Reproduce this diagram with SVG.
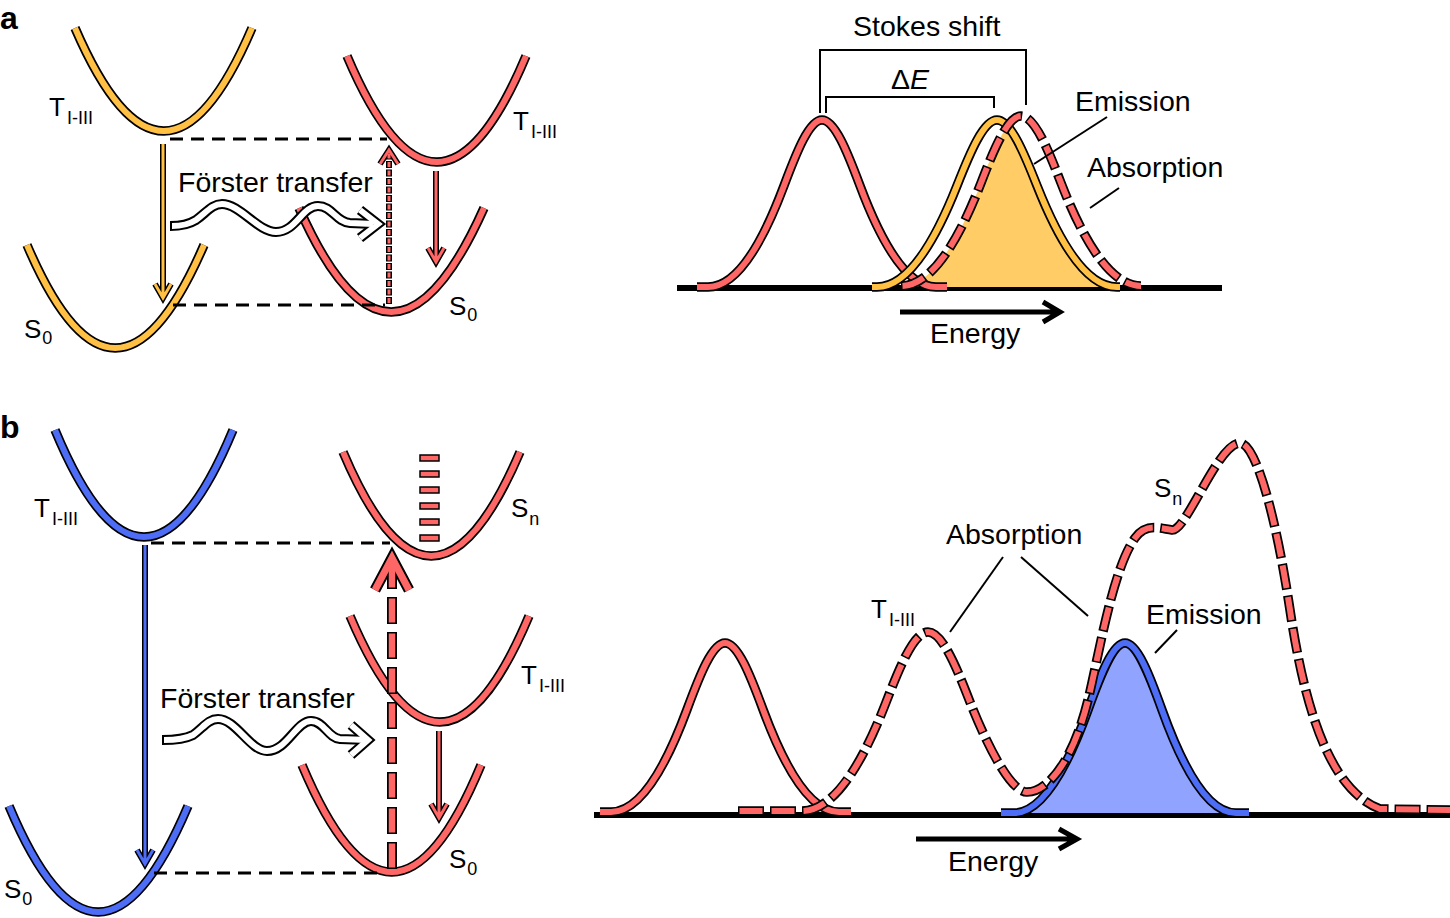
<svg xmlns="http://www.w3.org/2000/svg" xmlns:xlink="http://www.w3.org/1999/xlink" width="1450" height="918" viewBox="0 0 1450 918">
<style>
text{font-family:"Liberation Sans",Arial,sans-serif;fill:#000}
.lab{font-size:28.5px}
.st{font-size:26px}
.sub{font-size:18px}
.pl{font-size:32px;font-weight:bold}
.o9{fill:none;stroke:#000;stroke-width:9.5}
.o6{fill:none;stroke:#000;stroke-width:6}
.r6{fill:none;stroke:#FF6666;stroke-width:6}
.r3{fill:none;stroke:#FF6666;stroke-width:3}
.y6{fill:none;stroke:#FFC044;stroke-width:6}
.y3{fill:none;stroke:#FFC044;stroke-width:3}
.b6{fill:none;stroke:#4D6DF6;stroke-width:6}
.b3{fill:none;stroke:#4D6DF6;stroke-width:3}
.dk{stroke-dasharray:26 6}
.dr{stroke-dasharray:23 9;stroke-dashoffset:-1.5}
.bd{fill:none;stroke:#000;stroke-width:3;stroke-dasharray:13 8}
.ln{fill:none;stroke:#000;stroke-width:2}
.base{fill:none;stroke:#000;stroke-width:6}
.en{fill:none;stroke:#000;stroke-width:5;stroke-linejoin:miter}
.wk{fill:none;stroke:#000;stroke-width:10}
.ww{fill:none;stroke:#fff;stroke-width:6}
</style>
<defs>
<path id="yT" d="M75,28 Q164,234 252,28"/>
<path id="yS" d="M27,245 Q115,451 204,245"/>
<path id="rTa" d="M347,56 Q437,268 526,56"/>
<path id="rSa" d="M299,208 Q391,416 484,208"/>
<path id="bT" d="M55,430 Q144,644 233,430"/>
<path id="bS" d="M9,806 Q98,1018 188,806"/>
<path id="rSn" d="M343,452 Q431,660 520,452"/>
<path id="rTb" d="M350,616 Q440,828 529,616"/>
<path id="rSb" d="M302,765 Q392,979 481,765"/>
<path id="gRa" d="M697,287 L708,287 C733.3,287 758.7,253.3 784,185.7 C796.7,151.9 809.3,120 822,120 C834.7,120 847.3,151.9 860,185.7 C885.3,253.3 910.7,287 936,287 L947,287"/>
<path id="gYa" d="M872,287 L877,287 C903.7,287 930.3,253.3 957,185.7 C970.3,151.9 983.7,120 997,120 C1010.3,120 1023.7,151.9 1037,185.7 C1063.7,253.3 1090.3,287 1117,287 L1120,287"/>
<path id="gAa" d="M901,286 C927.7,286 954.3,251.7 981,182.9 C994.3,148.5 1007.7,116 1021,116 C1034.3,116 1047.7,148.5 1061,182.9 C1087.7,251.7 1114.3,286 1141,286"/>
<path id="gRb" d="M600,812 L611,812 C636.3,812 661.7,777.9 687,709.5 C699.7,675.3 712.3,643 725,643 C737.7,643 750.3,675.3 763,709.5 C788.3,777.9 813.7,812 839,812 L851,812"/>
<path id="gBb" d="M1001,813 L1014,813 C1038.7,813 1063.3,778.7 1088,709.9 C1100.3,675.5 1112.7,643 1125,643 C1137.3,643 1149.7,675.5 1162,709.9 C1186.7,778.7 1211.3,813 1236,813 L1249,813"/>
<path id="gAb" d="M738,811 L802,811 C830,811 858,774.8 886,702.4 C900,666.2 914,632 928,632 C942,632 956,666 970,702 C981,730 1008,792 1027,792 C1046,792 1072,765 1088,700 C1098,660 1112,570 1135,538 C1146,523 1158,528 1172,530 C1186,532 1218,443 1240,443 C1255,443 1275,510 1290,610 S1330,790 1380,809 L1450,810"/>
<clipPath id="clipA"><path d="M901,287 C927.7,286 954.3,251.7 981,182.9 C994.3,148.5 1007.7,116 1021,116 C1034.3,116 1047.7,148.5 1061,182.9 C1087.7,251.7 1114.3,286 1141,287 Z"/></clipPath>
</defs>
<rect width="1450" height="918" fill="#fff"/>

<text class="pl" x="0" y="29">a</text>
<text class="pl" x="0" y="438">b</text>

<!-- panel a potential curves -->
<g id="a-T-yellow"><use href="#yT" class="o9"/><use href="#yT" class="y6"/>
<text class="st" x="49" y="116">T<tspan class="sub" dx="2" dy="8">I-III</tspan></text></g>
<g id="a-S0-yellow"><use href="#yS" class="o9"/><use href="#yS" class="y6"/>
<text class="st" x="24" y="338">S<tspan class="sub" dx="1" dy="6">0</tspan></text></g>
<g id="a-T-red"><use href="#rTa" class="o9"/><use href="#rTa" class="r6"/>
<text class="st" x="513" y="130">T<tspan class="sub" dx="2" dy="8">I-III</tspan></text></g>
<g id="a-S0-red"><use href="#rSa" class="o9"/><use href="#rSa" class="r6"/>
<text class="st" x="449" y="315">S<tspan class="sub" dx="1" dy="6">0</tspan></text></g>

<!-- panel b potential curves -->
<g id="b-T-blue"><use href="#bT" class="o9"/><use href="#bT" class="b6"/>
<text class="st" x="34" y="517">T<tspan class="sub" dx="2" dy="8">I-III</tspan></text></g>
<g id="b-S0-blue"><use href="#bS" class="o9"/><use href="#bS" class="b6"/>
<text class="st" x="4" y="898">S<tspan class="sub" dx="1" dy="7">0</tspan></text></g>
<g id="b-Sn-red"><use href="#rSn" class="o9"/><use href="#rSn" class="r6"/>
<g fill="#FF6666" stroke="#000" stroke-width="1.5">
<rect x="420" y="455" width="19" height="6"/><rect x="420" y="471" width="19" height="6"/><rect x="420" y="487" width="19" height="6"/><rect x="420" y="503" width="19" height="6"/><rect x="420" y="519" width="19" height="6"/><rect x="420" y="535" width="19" height="6"/></g>
<text class="st" x="511" y="517">S<tspan class="sub" dx="1" dy="8">n</tspan></text></g>
<g id="b-T-red"><use href="#rTb" class="o9"/><use href="#rTb" class="r6"/>
<text class="st" x="521" y="684">T<tspan class="sub" dx="2" dy="8">I-III</tspan></text></g>
<g id="b-S0-red"><use href="#rSb" class="o9"/><use href="#rSb" class="r6"/>
<text class="st" x="449" y="868">S<tspan class="sub" dx="1" dy="7">0</tspan></text></g>

<!-- spectra a -->
<g id="spectrum-a">
<path class="base" d="M677,288 L1222,288"/>
<path d="M872,287 L877,287 C903.7,287 930.3,253.3 957,185.7 C970.3,151.9 983.7,120 997,120 C1010.3,120 1023.7,151.9 1037,185.7 C1063.7,253.3 1090.3,287 1117,287 L1120,287 Z" fill="#FFCC66" clip-path="url(#clipA)"/>
<use href="#gRa" class="o9"/><use href="#gRa" class="r6"/>
<use href="#gYa" class="o9"/><use href="#gYa" class="y6"/>
<use href="#gAa" class="o9 dk"/><use href="#gAa" class="r6 dr"/>
<path class="ln" d="M820,113 L820,50 L1026,50 L1026,105"/>
<path class="ln" d="M826,113 L826,97 L994,97 L994,108"/>
<text class="lab" x="853" y="36">Stokes shift</text>
<text class="lab" x="891" y="89">Δ<tspan font-style="italic">E</tspan></text>
<text class="lab" x="1075" y="111">Emission</text>
<text class="lab" x="1087" y="177">Absorption</text>
<path class="ln" d="M1107,117 L1034,164"/>
<path class="ln" d="M1119,188 L1090,208"/>
<path class="en" d="M900,312 L1058,312 M1043,302 L1060,312 L1043,322"/>
<text class="lab" x="930" y="343">Energy</text>
</g>

<!-- spectra b -->
<g id="spectrum-b">
<path class="base" d="M594,815 L1450,815"/>
<path d="M1001,813 L1014,813 C1038.7,813 1063.3,778.7 1088,709.9 C1100.3,675.5 1112.7,643 1125,643 C1137.3,643 1149.7,675.5 1162,709.9 C1186.7,778.7 1211.3,813 1236,813 L1249,813 Z" fill="#90A3FF"/>
<use href="#gBb" class="o9"/><use href="#gBb" class="b6"/>
<use href="#gRb" class="o9"/><use href="#gRb" class="r6"/>
<use href="#gAb" class="o9 dk"/><use href="#gAb" class="r6 dr"/>
<text class="lab" x="946" y="544">Absorption</text>
<path class="ln" d="M1003,557 L950,632"/>
<path class="ln" d="M1021,557 L1088,616"/>
<text class="st" x="871" y="618">T<tspan class="sub" dx="2" dy="8">I-III</tspan></text>
<text class="st" x="1154" y="497">S<tspan class="sub" dx="1" dy="8">n</tspan></text>
<text class="lab" x="1146" y="624">Emission</text>
<path class="ln" d="M1177,630 L1155,653"/>
<path class="en" d="M916,839 L1075,839 M1059,829 L1077,839 L1059,849"/>
<text class="lab" x="948" y="871">Energy</text>
</g>

<!-- connectors -->
<g id="connectors">
<path class="bd" d="M170,139 L387,139"/>
<path class="bd" d="M173,305 L385,305"/>
<path class="bd" d="M151,543 L390,543"/>
<path class="bd" d="M154,873 L382,873"/>

<path class="o6" d="M163,144 L163,296 M155,284 L163,298 L171,284"/>
<path class="y3" d="M163,144 L163,296 M155,284 L163,298 L171,284"/>
<path class="o6" d="M436,171 L436,260 M428,248 L436,262 L444,248"/>
<path class="r3" d="M436,171 L436,260 M428,248 L436,262 L444,248"/>
<path d="M389,304 L389,153" fill="none" stroke="#000" stroke-width="6" stroke-dasharray="7 1.5"/>
<path class="o6" d="M380,164 L389,150 L398,164"/>
<path d="M389,304 L389,153" fill="none" stroke="#FF6666" stroke-width="3" stroke-dasharray="5 3.5" stroke-dashoffset="-1"/>
<path class="r3" d="M380,164 L389,150 L398,164"/>

<text class="lab" x="178" y="192">Förster transfer</text>
<path class="wk" d="M170,226 C180,226 188,225 196,220 C206,213 212,204 222,204 C240,204 258,232 276,232 C296,232 302,206 318,206 C332,206 336,222 350,223 L373,224"/>
<path class="wk" d="M360,210 L378,224 L360,238"/>
<path class="ww" d="M172,226 C180,226 188,225 196,220 C206,213 212,204 222,204 C240,204 258,232 276,232 C296,232 302,206 318,206 C332,206 336,222 350,223 L373,224"/>
<path class="ww" d="M360,210 L378,224 L360,238"/>

<path class="o6" d="M145,545 L145,862 M137,850 L145,864 L153,850"/>
<path class="b3" d="M145,545 L145,862 M137,850 L145,864 L153,850"/>
<path class="o6" d="M439,731 L439,816 M431,804 L439,818 L447,804"/>
<path class="r3" d="M439,731 L439,816 M431,804 L439,818 L447,804"/>
<path d="M392,869 L392,597" fill="none" stroke="#000" stroke-width="10" stroke-dasharray="27 8"/>
<path d="M392,589 L392,562" fill="none" stroke="#000" stroke-width="10"/>
<path d="M375,590 L392,558 L409,590" fill="none" stroke="#000" stroke-width="11"/>
<path d="M392,869 L392,597" fill="none" stroke="#FF6666" stroke-width="6.5" stroke-dasharray="24 11" stroke-dashoffset="-1.5"/>
<path d="M392,587.5 L392,562" fill="none" stroke="#FF6666" stroke-width="6.5"/>
<path d="M375,590 L392,558 L409,590" fill="none" stroke="#FF6666" stroke-width="7"/>

<text class="lab" x="160" y="708">Förster transfer</text>
<path class="wk" d="M162,740 C175,740 185,739 193,735 C203,728 208,719 218,719 C236,719 250,751 267,751 C287,751 296,721 311,721 C324,721 328,738 340,739 L368,740"/>
<path class="wk" d="M351,725 L368,740 L351,755"/>
<path class="ww" d="M164,740 C175,740 185,739 193,735 C203,728 208,719 218,719 C236,719 250,751 267,751 C287,751 296,721 311,721 C324,721 328,738 340,739 L368,740"/>
<path class="ww" d="M351,725 L368,740 L351,755"/>
</g>
</svg>
